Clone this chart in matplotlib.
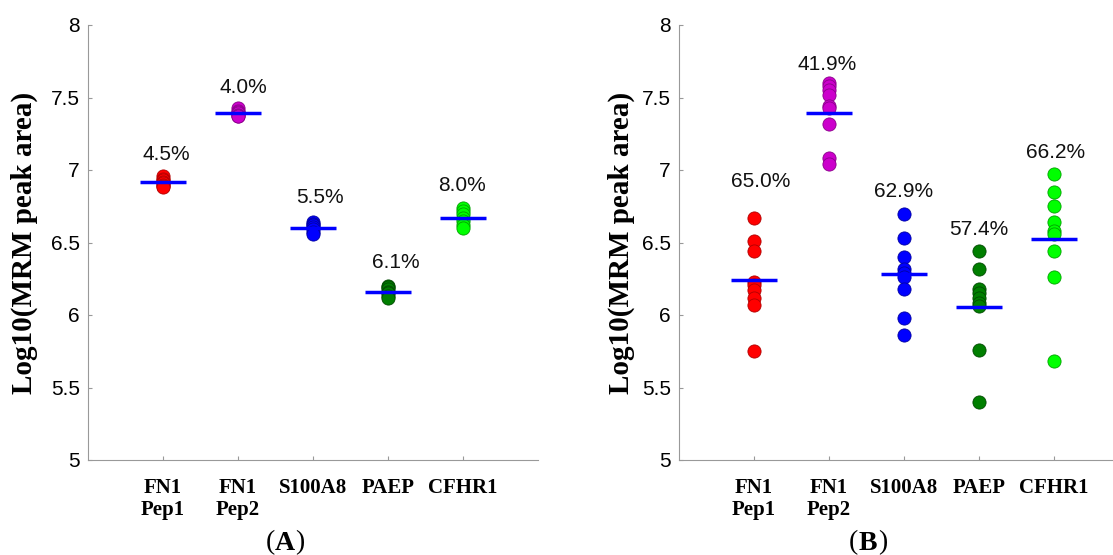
import matplotlib
matplotlib.use("Agg")
import matplotlib.pyplot as plt
import numpy as np

categories = ["FN1\nPep1", "FN1\nPep2", "S100A8", "PAEP", "CFHR1"]

# Panel A (repeated measurements)
a_fn1_pep1 = [6.96, 6.94, 6.93, 6.92, 6.91, 6.90, 6.89, 6.88]
a_fn1_pep2 = [7.43, 7.41, 7.40, 7.39, 7.38, 7.37, 7.37]
a_s100a8 = [6.64, 6.63, 6.62, 6.61, 6.59, 6.57, 6.56]
a_paep = [6.20, 6.19, 6.18, 6.16, 6.15, 6.13, 6.12]
a_cfhr1 = [6.74, 6.72, 6.70, 6.67, 6.65, 6.62, 6.60]
a_cv = ["4.5%", "4.0%", "5.5%", "6.1%", "8.0%"]

# Panel B (samples)
b_fn1_pep1 = [6.67, 6.51, 6.44, 6.23, 6.21, 6.17, 6.12, 6.07, 5.75]
b_fn1_pep2 = [7.60, 7.58, 7.55, 7.52, 7.44, 7.43, 7.32, 7.08, 7.04]
b_s100a8 = [6.70, 6.53, 6.40, 6.32, 6.29, 6.26, 6.18, 5.98, 5.86]
b_paep = [6.44, 6.32, 6.18, 6.15, 6.12, 6.08, 6.06, 5.76, 5.40]
b_cfhr1 = [6.97, 6.85, 6.75, 6.64, 6.58, 6.56, 6.44, 6.26, 5.68]
b_cv = ["65.0%", "41.9%", "62.9%", "57.4%", "66.2%"]

colors = ["#FF0000", "#CC00CC", "#0000FF", "#007F00", "#00FF00"]
edges = ["#B00000", "#8A008A", "#0000A0", "#004A00", "#00A000"]

# style: label offsets (x in category units, y in data units above max)
a_lab_dx = [0.05, 0.07, 0.09, 0.10, -0.01]
a_lab_dy = [0.15, 0.14, 0.17, 0.16, 0.15]
b_lab_dx = [0.09, -0.02, 0.0, 0.0, 0.02]
b_lab_dy = [0.25, 0.13, 0.15, 0.15, 0.15]

plt.rcParams["font.family"] = ["Liberation Sans", "DejaVu Sans"]

fig = plt.figure(figsize=(11.13, 5.55), dpi=100)

W, H = 1113, 555
def add_axes(left_px):
    return fig.add_axes([left_px / W, (H - 460) / H, 450 / W, 435 / H])

axA = add_axes(88)
axB = add_axes(679)

def draw(ax, groups, cvs, dxs, dys, label_x_px, letter, letter_x_px):
    x = np.arange(1, len(groups) + 1)
    for i, vals in enumerate(groups):
        ax.scatter(np.full(len(vals), x[i]), vals, s=90, c=colors[i],
                   edgecolors=edges[i], linewidths=0.6, zorder=3)
        m = np.mean(vals)
        ax.plot([x[i] - 0.305, x[i] + 0.305], [m, m], color="#0000FF",
                lw=2.5, zorder=4, solid_capstyle="butt")
        ax.text(x[i] + dxs[i], max(vals) + dys[i], cvs[i], ha="center",
                va="center", fontsize=15, color="#111111")
    ax.set_xlim(0, 6)
    ax.set_ylim(5, 8)
    ax.set_xticks(x)
    ax.set_xticklabels(categories, fontfamily="Liberation Serif",
                       fontweight="bold", fontsize=15, linespacing=1.15)
    ax.set_yticks([5, 5.5, 6, 6.5, 7, 7.5, 8])
    ax.set_yticklabels(["5", "5.5", "6", "6.5", "7", "7.5", "8"], fontsize=15)
    ax.tick_params(direction="in", length=3, width=0.8, color="#999999")
    ax.tick_params(axis="x", pad=13)
    ax.tick_params(axis="y", pad=6)
    for s in ["top", "right"]:
        ax.spines[s].set_visible(False)
    for s in ["left", "bottom"]:
        ax.spines[s].set_color("#999999")
        ax.spines[s].set_linewidth(0.8)
    ax.set_ylabel("Log10(MRM peak area)", fontfamily="Liberation Serif",
                  fontweight="bold", fontsize=21)
    ax.yaxis.set_label_coords((label_x_px - ax.get_position().x0 * W) /
                              (ax.get_position().width * W), 0.5)
    # panel letter "(A)"
    yl = (H - 543) / H
    cx = letter_x_px / W
    fig.text(cx, yl, letter, ha="center", va="center", fontsize=20,
             fontfamily="Liberation Serif", fontweight="bold")
    fig.text(cx - 10 / W, yl, "(", ha="right", va="center", fontsize=20,
             fontfamily="Liberation Serif")
    fig.text(cx + 10 / W, yl, ")", ha="left", va="center", fontsize=20,
             fontfamily="Liberation Serif")

draw(axA, [a_fn1_pep1, a_fn1_pep2, a_s100a8, a_paep, a_cfhr1], a_cv,
     a_lab_dx, a_lab_dy, 38, "A", 285)
draw(axB, [b_fn1_pep1, b_fn1_pep2, b_s100a8, b_paep, b_cfhr1], b_cv,
     b_lab_dx, b_lab_dy, 635, "B", 868)

fig.savefig("out.png", dpi=100)
